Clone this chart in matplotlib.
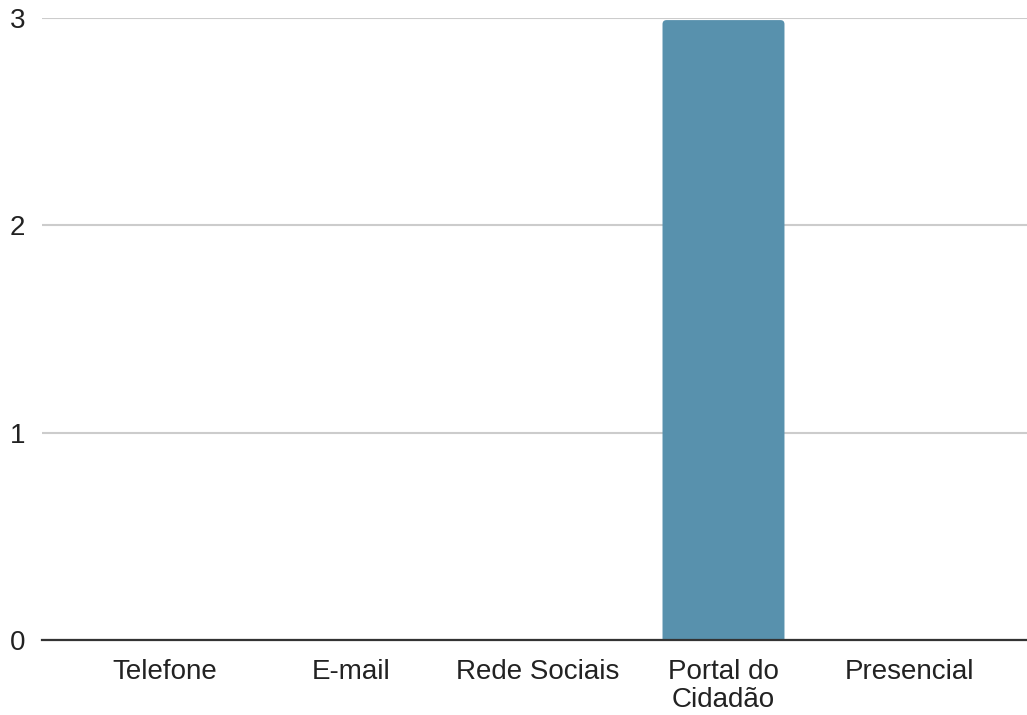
import numpy as np
import matplotlib.pyplot as plt
from matplotlib.patches import FancyBboxPatch

categories = ["Telefone", "E-mail", "Rede Sociais", "Portal do\nCidadão", "Presencial"]
values = [0, 0, 0, 3, 0]
yticks = [0, 1, 2, 3]

plt.rcParams['font.family'] = ['Liberation Sans', 'DejaVu Sans']

fig = plt.figure(figsize=(10.27, 7.15), dpi=100)
ax = fig.add_axes([0.0409, 0.1049, 0.9591, 0.8699])

x = np.arange(len(categories))
bars = ax.bar(x, values, width=0.655, color='#5891ad', zorder=3)

# swap the plain rectangles for ones with slightly rounded top corners
for b in bars:
    if b.get_height() <= 0:
        continue
    bx, by, bw, bh = b.get_x(), b.get_y(), b.get_width(), b.get_height()
    b.set_visible(False)
    rr = FancyBboxPatch((bx, by - 0.05), bw, bh + 0.05 - 0.01,
                        boxstyle="round,pad=0,rounding_size=0.022",
                        mutation_aspect=0.9, facecolor='#5891ad',
                        edgecolor='none', zorder=3)
    ax.add_patch(rr)

ax.set_xlim(-0.66, 4.63)
ax.set_ylim(0, 3)
ax.set_yticks(yticks)
ax.set_xticks(x)
ax.set_xticklabels(categories, fontsize=20, color='#222222', linespacing=1.1)
ax.tick_params(axis='y', length=0, pad=12, labelsize=20, labelcolor='#222222')
ax.tick_params(axis='x', length=0, pad=14)
for lbl in ax.get_yticklabels():
    lbl.set_verticalalignment('center_baseline')

ax.grid(axis='y', color='#cccccc', linewidth=1.5, zorder=0)
for s in ['top', 'right', 'left']:
    ax.spines[s].set_visible(False)
ax.spines['bottom'].set_color('#333333')
ax.spines['bottom'].set_linewidth(1.6)
ax.spines['bottom'].set_zorder(4)

fig.savefig('out.png', dpi=100)
